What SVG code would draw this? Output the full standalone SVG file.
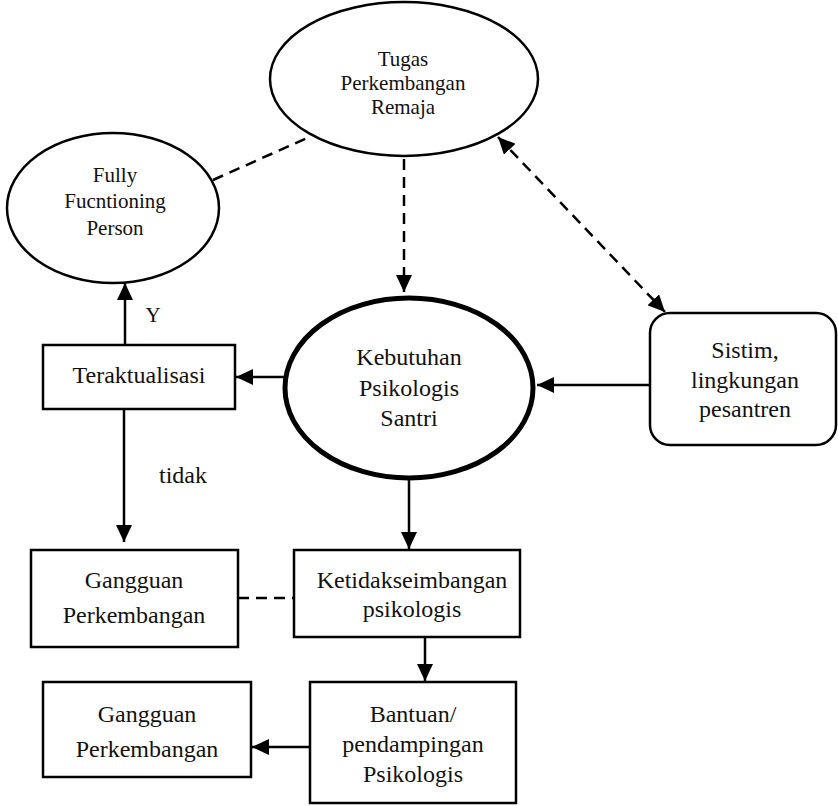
<svg xmlns="http://www.w3.org/2000/svg" width="838" height="806" viewBox="0 0 838 806">
<style>
  .shape { fill: #ffffff; stroke: #000000; stroke-width: 2.5; }
  .thick { fill: #ffffff; stroke: #000000; stroke-width: 5; }
  .line { fill: none; stroke: #000000; stroke-width: 2.5; }
  .dash { fill: none; stroke: #000000; stroke-width: 2.5; stroke-dasharray: 11 7; }
  text { font-family: "Liberation Serif", "Times New Roman", serif; fill: #111111; text-anchor: middle; }
  .sm { font-size: 21px; }
  .md { font-size: 24px; }
</style>
<defs>
  <marker id="arr" markerUnits="userSpaceOnUse" markerWidth="18" markerHeight="16" refX="17" refY="8" orient="auto-start-reverse">
    <path d="M0,0 L17,8 L0,16 Z" fill="#000000"/>
  </marker>
</defs>
<rect width="838" height="806" fill="#ffffff"/>

<g id="connectors">
  <line class="dash" x1="213" y1="180" x2="307" y2="138"/>
  <line class="dash" x1="404" y1="159" x2="404" y2="292" marker-end="url(#arr)"/>
  <line class="dash" x1="498" y1="137" x2="665" y2="312" marker-start="url(#arr)" marker-end="url(#arr)"/>
  <line class="line" x1="650" y1="385" x2="537" y2="385" marker-end="url(#arr)"/>
  <line class="line" x1="284" y1="377" x2="236" y2="377" marker-end="url(#arr)"/>
  <line class="line" x1="125" y1="345" x2="125" y2="283" marker-end="url(#arr)"/>
  <line class="line" x1="124" y1="409" x2="124" y2="542" marker-end="url(#arr)"/>
  <line class="line" x1="409" y1="478" x2="409" y2="549" marker-end="url(#arr)"/>
  <line class="dash" x1="238" y1="598" x2="294" y2="598"/>
  <line class="line" x1="425" y1="637" x2="425" y2="681" marker-end="url(#arr)"/>
  <line class="line" x1="310" y1="747" x2="252" y2="747" marker-end="url(#arr)"/>
  <text class="sm" x="153" y="322">Y</text>
  <text class="md" x="183" y="483">tidak</text>
</g>

<g id="tugas">
  <ellipse class="shape" cx="404" cy="79" rx="134" ry="77"/>
  <text class="sm" x="403" y="66">Tugas</text>
  <text class="sm" x="403" y="90">Perkembangan</text>
  <text class="sm" x="403" y="114">Remaja</text>
</g>

<g id="fully">
  <ellipse class="shape" cx="113" cy="208" rx="106" ry="75"/>
  <text class="sm" x="115" y="182">Fully</text>
  <text class="sm" x="115" y="208">Fucntioning</text>
  <text class="sm" x="115" y="235">Person</text>
</g>

<g id="kebutuhan">
  <ellipse class="thick" cx="409" cy="388" rx="124" ry="90"/>
  <text class="md" x="409" y="365">Kebutuhan</text>
  <text class="md" x="409" y="396">Psikologis</text>
  <text class="md" x="409" y="426">Santri</text>
</g>

<g id="sistim">
  <rect class="shape" x="650" y="313" width="186" height="132" rx="20" ry="20"/>
  <text class="md" x="745" y="358">Sistim,</text>
  <text class="md" x="745" y="388">lingkungan</text>
  <text class="md" x="745" y="417">pesantren</text>
</g>

<g id="teraktualisasi">
  <rect class="shape" x="43" y="345" width="192" height="64"/>
  <text class="md" x="139" y="383">Teraktualisasi</text>
</g>

<g id="gangguan1">
  <rect class="shape" x="31" y="550" width="207" height="97"/>
  <text class="md" x="134" y="588">Gangguan</text>
  <text class="md" x="134" y="623">Perkembangan</text>
</g>

<g id="ketidakseimbangan">
  <rect class="shape" x="294" y="550" width="226" height="87"/>
  <text class="md" x="412" y="588">Ketidakseimbangan</text>
  <text class="md" x="412" y="617">psikologis</text>
</g>

<g id="bantuan">
  <rect class="shape" x="310" y="682" width="206" height="121"/>
  <text class="md" x="413" y="722">Bantuan/</text>
  <text class="md" x="413" y="752">pendampingan</text>
  <text class="md" x="413" y="782">Psikologis</text>
</g>

<g id="gangguan2">
  <rect class="shape" x="43" y="682" width="208" height="95"/>
  <text class="md" x="147" y="722">Gangguan</text>
  <text class="md" x="147" y="757">Perkembangan</text>
</g>
</svg>
